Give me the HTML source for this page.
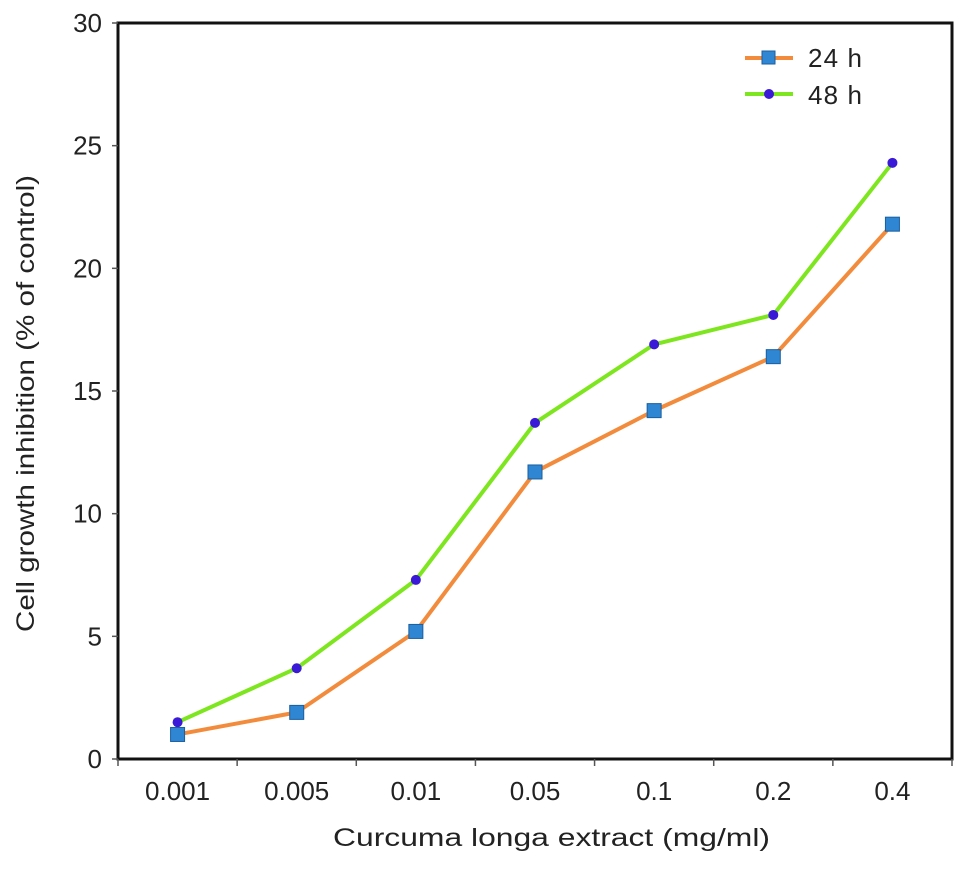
<!DOCTYPE html>
<html><head><meta charset="utf-8"><style>
body{margin:0;background:#fff;}
svg text{font-family:"Liberation Sans",Arial,sans-serif;fill:#222;}
</style></head><body>
<svg id="chart" width="969" height="868">
<g id="axes"></g><g id="series"></g>
<g>
 <line x1="745" y1="58" x2="793" y2="58" stroke="#f28c3c" stroke-width="4"/>
 <rect x="762" y="51" width="13" height="13" fill="#2f86d2" stroke="#1a5fa0"/>
 <text x="808" y="67" font-size="26" textLength="54">24 h</text>
 <line x1="745" y1="94" x2="793" y2="94" stroke="#7ee61e" stroke-width="4"/>
 <circle cx="769" cy="94" r="5" fill="#3a1ad6"/>
 <text x="808" y="104" font-size="26" textLength="54">48 h</text>
</g>
<text x="333" y="846" font-size="25" textLength="437" lengthAdjust="spacingAndGlyphs">Curcuma longa extract (mg/ml)</text>
<text transform="translate(34,632) rotate(-90)" font-size="25" textLength="457" lengthAdjust="spacingAndGlyphs">Cell growth inhibition (% of control)</text>
</svg>
<script>
const categories=["0.001","0.005","0.01","0.05","0.1","0.2","0.4"];
const series24=[1.0,1.9,5.2,11.7,14.2,16.4,21.8];
const series48=[1.5,3.7,7.3,13.7,16.9,18.1,24.3];
const yTicks=[0,5,10,15,20,25,30];
const L=118,R=952,T=23,B=759;
const bw=(R-L)/categories.length;
const xs=i=>L+bw*(i+0.5);
const ys=v=>B-(v/30)*(B-T);
const NS="http://www.w3.org/2000/svg";
function mk(tag,attrs,parent){const e=document.createElementNS(NS,tag);for(const k in attrs)e.setAttribute(k,attrs[k]);parent.appendChild(e);return e;}
const ax=document.getElementById('axes');
let fr=mk('rect',{x:L,y:T,width:R-L,height:B-T,fill:'none',stroke:'#111','stroke-width':3},ax);


yTicks.forEach(v=>{
 mk('line',{x1:L-6,x2:L,y1:ys(v),y2:ys(v),stroke:'#555','stroke-width':1.5},ax);
 const t=mk('text',{x:L-16,y:ys(v)+9,'font-size':26,'text-anchor':'end'},ax);t.textContent=v;
 
 
});
for(let i=0;i<=categories.length;i++){mk('line',{x1:L+bw*i,x2:L+bw*i,y1:B,y2:B+7,stroke:'#555','stroke-width':1.5},ax);}
categories.forEach((c,i)=>{
 const t=mk('text',{x:xs(i),y:B+41,'font-size':26,'text-anchor':'middle'},ax);t.textContent=c;
 
 
});
const sg=document.getElementById('series');
function line(data,color,name){
 const p=mk('polyline',{points:data.map((v,i)=>xs(i)+','+ys(v)).join(' '),fill:'none',stroke:color,'stroke-width':4,'stroke-linejoin':'round'},sg);
 
 
}
line(series48,'#7ee61e','line-48h');
line(series24,'#f28c3c','line-24h');
series48.forEach((v,i)=>{const c=mk('circle',{cx:xs(i),cy:ys(v),r:5,fill:'#3a1ad6'},sg);
 
 });
series24.forEach((v,i)=>{const r=mk('rect',{x:xs(i)-7,y:ys(v)-7,width:14,height:14,fill:'#2f86d2',stroke:'#1a5fa0'},sg);
 
 });
</script>
</body></html>
